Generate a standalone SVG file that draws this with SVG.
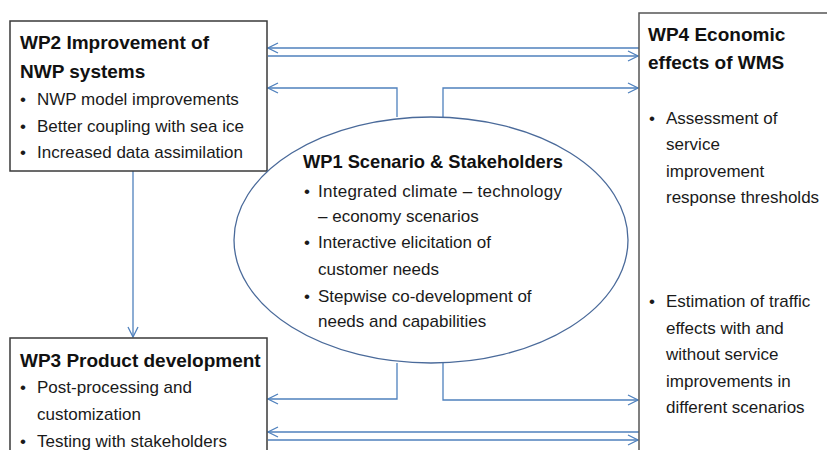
<svg xmlns="http://www.w3.org/2000/svg" width="827" height="450" viewBox="0 0 827 450">
<style>
.box{fill:#fff;stroke:#3a3a3a;stroke-width:1.5}
.ell{fill:#fff;stroke:#4a6a9a;stroke-width:1.3}
.con{fill:none;stroke:#4f81bd;stroke-width:1.3}
.t{font-family:"Liberation Sans",Arial,sans-serif;font-weight:bold;font-size:19px;fill:#111}
.b{font-family:"Liberation Sans",Arial,sans-serif;font-size:17px;fill:#1a1a1a}
</style>
<defs>
<marker id="arr" viewBox="0 0 12 12" refX="11" refY="6" markerWidth="12" markerHeight="12" markerUnits="userSpaceOnUse" orient="auto">
<polyline points="1,1 11,6 1,11" fill="none" stroke="#4f81bd" stroke-width="1.3"/>
</marker>
</defs>
<g id="connectors">
<line class="con" x1="639" y1="48" x2="268" y2="48" marker-end="url(#arr)"/>
<line class="con" x1="268" y1="56" x2="638" y2="56" marker-end="url(#arr)"/>
<polyline class="con" points="397,117 397,88 268,88" marker-end="url(#arr)"/>
<polyline class="con" points="443,117 443,88 638,88" marker-end="url(#arr)"/>
<polyline class="con" points="397,363 397,399 268,399" marker-end="url(#arr)"/>
<polyline class="con" points="443,363 443,400 638,400" marker-end="url(#arr)"/>
<line class="con" x1="639" y1="432" x2="268" y2="432" marker-end="url(#arr)"/>
<line class="con" x1="268" y1="440" x2="638" y2="440" marker-end="url(#arr)"/>
<line class="con" x1="133" y1="171" x2="133" y2="337" marker-end="url(#arr)"/>
</g>
<g id="wp2">
<rect class="box" x="10" y="21" width="257" height="150"/>
<text class="t" x="20" y="49">WP2 Improvement of</text>
<text class="t" x="20" y="78">NWP systems</text>
<text class="b" x="20" y="105">•</text><text class="b" x="37" y="105">NWP model improvements</text>
<text class="b" x="20" y="132">•</text><text class="b" x="37" y="132">Better coupling with sea ice</text>
<text class="b" x="20" y="158">•</text><text class="b" x="37" y="158">Increased data assimilation</text>
</g>
<g id="wp4">
<rect class="box" x="639" y="13" width="200" height="450" style="stroke:#555"/>
<text class="t" x="648" y="41">WP4 Economic</text>
<text class="t" x="648" y="69">effects of WMS</text>
<text class="b" x="649" y="124">•</text><text class="b" x="666" y="124">Assessment of</text>
<text class="b" x="666" y="150">service</text>
<text class="b" x="666" y="177">improvement</text>
<text class="b" x="666" y="203">response thresholds</text>
<text class="b" x="649" y="307">•</text><text class="b" x="666" y="307">Estimation of traffic</text>
<text class="b" x="666" y="334">effects with and</text>
<text class="b" x="666" y="360">without service</text>
<text class="b" x="666" y="387">improvements in</text>
<text class="b" x="666" y="413">different scenarios</text>
</g>
<g id="wp3">
<rect class="box" x="10" y="338" width="257" height="130"/>
<text class="t" x="20" y="367">WP3 Product development</text>
<text class="b" x="20" y="393">•</text><text class="b" x="37" y="393">Post-processing and</text>
<text class="b" x="37" y="420">customization</text>
<text class="b" x="20" y="447">•</text><text class="b" x="37" y="447">Testing with stakeholders</text>
</g>
<g id="wp1">
<ellipse class="ell" cx="431" cy="240" rx="197" ry="123"/>
<text class="t" x="303" y="168" textLength="260" lengthAdjust="spacingAndGlyphs">WP1 Scenario &amp; Stakeholders</text>
<text class="b" x="304" y="197">•</text><text class="b" x="318" y="197" textLength="244">Integrated climate – technology</text>
<text class="b" x="318" y="222">– economy scenarios</text>
<text class="b" x="304" y="248">•</text><text class="b" x="318" y="248">Interactive elicitation of</text>
<text class="b" x="318" y="275">customer needs</text>
<text class="b" x="304" y="302">•</text><text class="b" x="318" y="302">Stepwise co-development of</text>
<text class="b" x="318" y="327">needs and capabilities</text>
</g>
</svg>
